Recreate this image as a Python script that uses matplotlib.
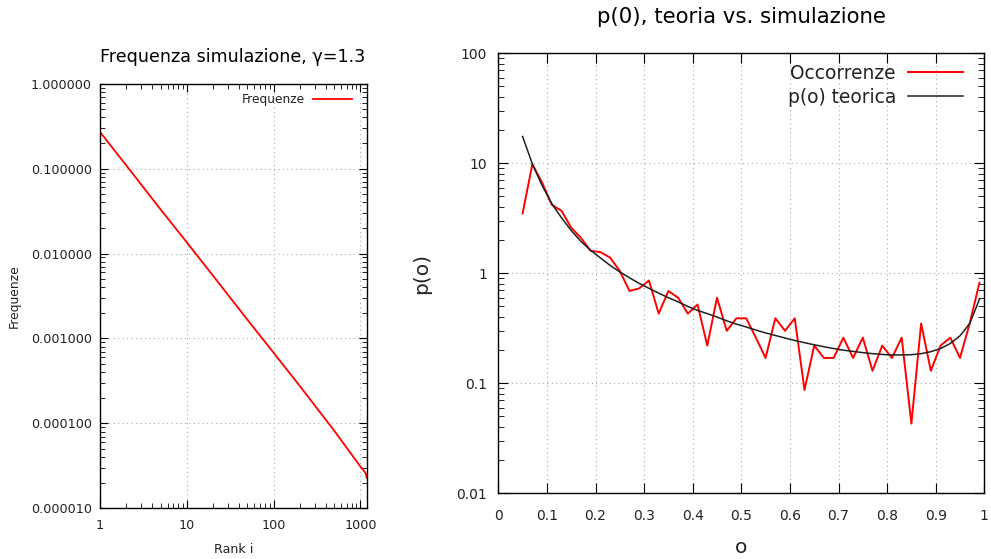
import matplotlib
matplotlib.use("Agg")
import matplotlib.pyplot as plt
from matplotlib.ticker import FuncFormatter, LogLocator, NullFormatter

# Left panel: rank-frequency
rank = [1, 2, 5, 10, 20, 50, 100, 200, 500, 1000, 1100, 1150, 1180]
freq = [0.27, 0.1097, 0.0330, 0.01355, 0.0055, 0.00166, 0.000679, 0.000276,
        8.2e-5, 3.1e-5, 2.75e-5, 2.6e-5, 2.3e-5]

# Right panel: histogram of o vs theoretical p(o)
o_vals = [0.05, 0.07, 0.09, 0.11, 0.13, 0.15, 0.17, 0.19, 0.21, 0.23,
          0.25, 0.27, 0.29, 0.31, 0.33, 0.35, 0.37, 0.39, 0.41, 0.43,
          0.45, 0.47, 0.49, 0.51, 0.53, 0.55, 0.57, 0.59, 0.61, 0.63,
          0.65, 0.67, 0.69, 0.71, 0.73, 0.75, 0.77, 0.79, 0.81, 0.83,
          0.85, 0.87, 0.89, 0.91, 0.93, 0.95, 0.97, 0.99]
occorrenze = [3.5, 9.8, 6.7, 4.2, 3.7, 2.6, 2.1, 1.6, 1.56, 1.39,
              1.05, 0.69, 0.73, 0.86, 0.43, 0.69, 0.60, 0.43, 0.52, 0.22,
              0.60, 0.30, 0.39, 0.39, 0.26, 0.17, 0.39, 0.30, 0.39, 0.087,
              0.22, 0.17, 0.17, 0.26, 0.17, 0.26, 0.13, 0.22, 0.17, 0.26,
              0.043, 0.35, 0.13, 0.22, 0.26, 0.17, 0.35, 0.82]
teorica = [17.5, 9.9, 6.3, 4.3, 3.2, 2.45, 1.95, 1.62, 1.38, 1.18,
           1.03, 0.91, 0.81, 0.73, 0.66, 0.60, 0.55, 0.50, 0.46, 0.43,
           0.40, 0.37, 0.345, 0.325, 0.305, 0.287, 0.272, 0.258, 0.245, 0.234,
           0.224, 0.215, 0.207, 0.200, 0.195, 0.190, 0.186, 0.183, 0.181, 0.181,
           0.182, 0.186, 0.194, 0.207, 0.230, 0.27, 0.35, 0.58]

plt.rcParams['font.family'] = 'DejaVu Sans'

fig = plt.figure(figsize=(9.91, 5.59), dpi=100)
ax1 = fig.add_axes([100/991, 1-508.3/559, 266.7/991, 424.6/559])
ax2 = fig.add_axes([498.3/991, 1-493.3/559, 486/991, 440/559])

grid_kw = dict(color='#a8a8a8', linestyle=(0, (1, 3)), linewidth=0.8)

# --- left
ax1.plot(rank, freq, color='red', lw=1.3, label='Frequenze')
ax1.set_xscale('log')
ax1.set_yscale('log')
ax1.set_xlim(1, 1182)
ax1.set_ylim(1e-5, 1)
ax1.set_xticks([1, 10, 100, 1000])
ax1.xaxis.set_major_formatter(FuncFormatter(lambda v, p: '%g' % v))
ax1.yaxis.set_major_locator(LogLocator(base=10, numticks=10))
ax1.yaxis.set_major_formatter(FuncFormatter(lambda v, p: '%f' % v))
ax1.xaxis.set_minor_formatter(NullFormatter())
ax1.yaxis.set_minor_formatter(NullFormatter())
ax1.grid(True, which='major', **grid_kw)
ax1.tick_params(which='both', direction='in', top=True, right=True,
                labelsize=9.2, pad=6, labelcolor='#222222')
ax1.tick_params(axis='x', pad=8)
ax1.tick_params(which='major', length=6)
ax1.tick_params(which='minor', length=3.5)
ax1.set_xlabel('Rank i', fontsize=9.1, color='#222222')
ax1.set_ylabel('Frequenze', fontsize=8.9, color='#222222')
ax1.xaxis.set_label_coords(0.5, -0.096)
ax1.yaxis.set_label_coords(-0.3225, 0.5)
ax1.xaxis.label.set_va('center')
ax1.yaxis.label.set_va('center')
leg1 = ax1.legend(loc='upper right', bbox_to_anchor=(0.945, 0.977), frameon=False,
                  markerfirst=False, fontsize=8.8, handlelength=3.2,
                  handletextpad=0.65, borderpad=0, borderaxespad=0)
for t in leg1.get_texts():
    t.set_color('#222222')
fig.text(233/991, 1-57/559, 'Frequenza simulazione, \u03b3=1.3', ha='center', va='center',
         fontsize=12.6)

# --- right
ax2.plot(o_vals, occorrenze, color='red', lw=1.4, label='Occorrenze')
ax2.plot(o_vals, teorica, color='#202020', lw=1.1, label='p(o) teorica')
ax2.set_yscale('log')
ax2.set_xlim(0, 1)
ax2.set_ylim(0.01, 100)
ax2.set_xticks([0, 0.1, 0.2, 0.3, 0.4, 0.5, 0.6, 0.7, 0.8, 0.9, 1])
ax2.xaxis.set_major_formatter(FuncFormatter(lambda v, p: '%g' % v))
ax2.yaxis.set_major_formatter(FuncFormatter(lambda v, p: '%g' % v))
ax2.yaxis.set_minor_formatter(NullFormatter())
ax2.grid(True, which='major', **grid_kw)
ax2.tick_params(which='both', direction='in', top=True, right=True,
                labelsize=10, pad=8, labelcolor='#222222')
ax2.tick_params(axis='x', pad=11)
ax2.tick_params(which='major', length=7)
ax2.tick_params(which='minor', length=4)
ax2.set_xlabel('o', fontsize=14.5, color='#222222')
ax2.set_ylabel('p(o)', fontsize=14.5, color='#222222')
ax2.xaxis.set_label_coords(0.5, -0.124)
ax2.yaxis.set_label_coords(-0.158, 0.5)
ax2.xaxis.label.set_va('center')
ax2.yaxis.label.set_va('center')
leg2 = ax2.legend(loc='upper right', bbox_to_anchor=(0.956, 0.976), frameon=False,
                  markerfirst=False, fontsize=13.4,
                  handlelength=2.95, handletextpad=0.65, borderpad=0,
                  borderaxespad=0, labelspacing=0.25)
for t in leg2.get_texts():
    t.set_color('#222222')
fig.text(741/991, 1-17/559, 'p(0), teoria vs. simulazione', ha='center', va='center',
         fontsize=15.3)

for ax in (ax1, ax2):
    for s in ax.spines.values():
        s.set_linewidth(1.0)

fig.savefig('out.png', dpi=100)
